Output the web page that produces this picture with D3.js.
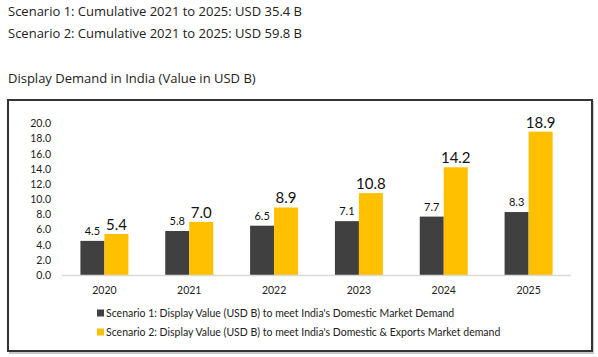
<!DOCTYPE html>
<html><head><meta charset="utf-8">
<script src="https://cdn.jsdelivr.net/npm/d3@7"></script>
<style>body{margin:0;background:#fff}svg{display:block}</style>
</head><body>
<svg id="c" width="598" height="357"></svg>
<script>
const headerLines = ["Scenario 1: Cumulative 2021 to 2025: USD 35.4 B", "Scenario 2: Cumulative 2021 to 2025: USD 59.8 B"];
const chartTitle = "Display Demand in India (Value in USD B)";
const years = ["2020","2021","2022","2023","2024","2025"];
const scenario1 = [4.5, 5.8, 6.5, 7.1, 7.7, 8.3];
const scenario2 = [5.4, 7.0, 8.9, 10.8, 14.2, 18.9];
const seriesNames = ["Scenario 1: Display Value (USD B) to meet India's Domestic Market Demand",
                     "Scenario 2: Display Value (USD B) to meet India's Domestic & Exports Market demand"];
const yTicks = [0,2,4,6,8,10,12,14,16,18,20];
const colors = ["#404040", "#FFC000"];

const svg = d3.select("#c");
const hdrFont = "'Open Sans', sans-serif";
const chFont = "Lato, 'Open Sans', sans-serif";

svg.selectAll("text.hdr").data(headerLines).join("text")
  .attr("x", 8).attr("y", (d,i)=>15.5 + i*22)
  .attr("font-family", hdrFont).attr("font-size", 13).attr("fill", "#222").text(d=>d);
svg.append("text").attr("x", 8).attr("y", 83).attr("font-family", hdrFont)
  .attr("font-size", 13).attr("fill", "#222").text(chartTitle);

// frame with shadow
svg.append("rect").attr("x", 9).attr("y", 101).attr("width", 585).attr("height", 253).attr("fill", "#c8c8c8");
svg.append("rect").attr("x", 8).attr("y", 100).attr("width", 584).attr("height", 251)
  .attr("fill", "#fff").attr("stroke", "#333").attr("stroke-width", 2);

const x0 = d3.scaleBand().domain(years).range([62, 571]);
const x1 = d3.scaleBand().domain([0,1]).range([x0.bandwidth()/2 - 24, x0.bandwidth()/2 + 24]);
const y = d3.scaleLinear().domain([0, 20]).range([275, 123.3]);

const yAxis = d3.axisLeft(y).tickValues(yTicks).tickFormat(d3.format(".1f")).tickSize(0).tickPadding(0);
const ya = svg.append("g").attr("transform", "translate(51,0)").call(yAxis);
ya.select(".domain").remove();
ya.selectAll("text").attr("font-family", chFont).attr("font-size", 10.5).attr("fill", "#222");

const xAxis = d3.axisBottom(x0).tickSize(0).tickPadding(0);
const xa = svg.append("g").attr("transform", "translate(0,287)").call(xAxis);
xa.select(".domain").remove();
xa.selectAll("text").attr("font-family", chFont).attr("font-size", 10.5).attr("fill", "#222");

const data = years.map((yr,i)=>({yr, vals:[scenario1[i], scenario2[i]]}));
const g = svg.selectAll("g.grp").data(data).join("g").attr("class","grp")
  .attr("transform", d=>`translate(${x0(d.yr)},0)`);
g.selectAll("rect").data(d=>d.vals).join("rect")
  .attr("x", (d,i)=>x1(i)).attr("width", x1.bandwidth())
  .attr("y", d=>y(d)).attr("height", d=>y(0)-y(d))
  .attr("fill", (d,i)=>colors[i]);
g.selectAll("text").data(d=>d.vals).join("text")
  .attr("x", (d,i)=>x1(i)+x1.bandwidth()/2)
  .attr("y", (d,i)=>y(d) - (i===0 ? 6 : 4))
  .attr("text-anchor", "middle").attr("font-family", chFont)
  .attr("font-size", (d,i)=> i===0 ? 11 : 15).attr("fill", "#111")
  .text(d=>d.toFixed(1));

svg.append("line").attr("x1", 62).attr("x2", 571).attr("y1", y(0)+0.5).attr("y2", y(0)+0.5)
  .attr("stroke", "#d9d9d9").attr("stroke-width", 1.5);

const lg = svg.selectAll("g.lg").data(seriesNames).join("g").attr("class","lg")
  .attr("transform", (d,i)=>`translate(97,${317 + i*19})`);
lg.append("rect").attr("x", 0).attr("y", -7.5).attr("width", 7).attr("height", 7)
  .attr("fill", (d,i)=>colors[i]);
lg.append("text").attr("x", 9).attr("y", 0).attr("font-family", chFont)
  .attr("font-size", 10.5).attr("fill", "#222").text(d=>d);
</script>
</body></html>
